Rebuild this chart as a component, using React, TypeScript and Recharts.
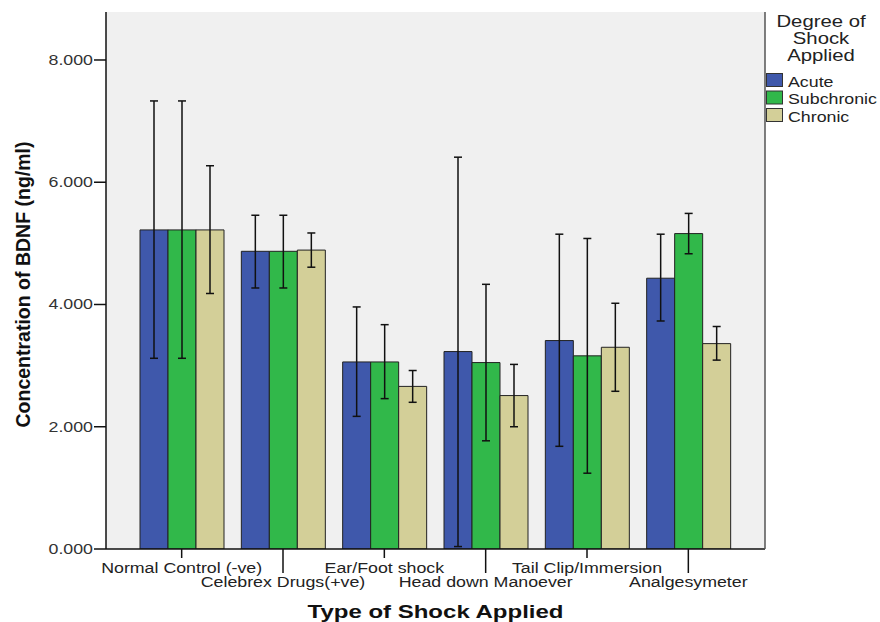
import { BarChart, Bar, XAxis, YAxis, ErrorBar, CartesianGrid } from 'recharts';

const categories = [
  'Normal Control (-ve)',
  'Celebrex Drugs(+ve)',
  'Ear/Foot shock',
  'Head down Manoever',
  'Tail Clip/Immersion',
  'Analgesymeter',
];

// means and 95% CI bounds
const acuteMean = [5.22, 4.87, 3.06, 3.23, 3.41, 4.43];
const acuteLow = [3.12, 4.27, 2.17, 0.04, 1.68, 3.73];
const acuteHigh = [7.33, 5.46, 3.96, 6.41, 5.15, 5.15];

const subchronicMean = [5.22, 4.87, 3.06, 3.05, 3.16, 5.16];
const subchronicLow = [3.12, 4.27, 2.46, 1.77, 1.24, 4.83];
const subchronicHigh = [7.33, 5.46, 3.67, 4.33, 5.08, 5.49];

const chronicMean = [5.22, 4.89, 2.66, 2.51, 3.3, 3.36];
const chronicLow = [4.18, 4.61, 2.4, 2.0, 2.58, 3.09];
const chronicHigh = [6.27, 5.17, 2.92, 3.02, 4.02, 3.64];

const yTicks = [0, 2, 4, 6, 8];

const series = [
  { key: 'acute', name: 'Acute', color: '#3f58ab', mean: acuteMean, low: acuteLow, high: acuteHigh },
  { key: 'subchronic', name: 'Subchronic', color: '#31b84a', mean: subchronicMean, low: subchronicLow, high: subchronicHigh },
  { key: 'chronic', name: 'Chronic', color: '#d3cf98', mean: chronicMean, low: chronicLow, high: chronicHigh },
];

const data = categories.map((name, i) => {
  const row: Record<string, any> = { name };
  series.forEach((s) => {
    row[s.key] = s.mean[i];
    row[s.key + 'Err'] = [s.mean[i] - s.low[i], s.high[i] - s.mean[i]];
  });
  return row;
});

const FONT = '"Liberation Sans", Arial, sans-serif';
const STRETCH = 1.27;

function CategoryTick({ x, y, payload, index }: any) {
  const low = index % 2 === 1;
  return (
    <g>
      <line x1={x} y1={y} x2={x} y2={y + (low ? 24 : 9)} stroke="#111" strokeWidth={1.5} />
      <text
        transform={`translate(${x},${y + (low ? 38 : 24)}) scale(${STRETCH},1)`}
        textAnchor="middle"
        fontSize={14}
        fontFamily={FONT}
        fill="#222"
      >
        {payload.value}
      </text>
    </g>
  );
}

function ValueTick({ x, y, payload }: any) {
  return (
    <text
      transform={`translate(${x},${y + 5}) scale(${STRETCH},1)`}
      textAnchor="end"
      fontSize={14}
      fontFamily={FONT}
      fill="#333"
    >
      {Number(payload.value).toFixed(3)}
    </text>
  );
}

function YTitle(props: any) {
  const vb = props.viewBox ?? props;
  const cy = vb.y + vb.height / 2;
  return (
    <text
      transform={`translate(${vb.x - 16},${cy + 4}) rotate(-90)`}
      textAnchor="middle"
      fontSize={19.5}
      fontWeight="bold"
      fontFamily={FONT}
      fill="#111"
    >
      Concentration of BDNF (ng/ml)
    </text>
  );
}

function XTitle(props: any) {
  const vb = props.viewBox ?? props;
  return (
    <text
      x={vb.x + vb.width / 2}
      y={vb.y + 69}
      textAnchor="middle"
      fontSize={18.5}
      fontWeight="bold"
      fontFamily={FONT}
      fill="#111"
      textLength={256}
      lengthAdjust="spacingAndGlyphs"
    >
      Type of Shock Applied
    </text>
  );
}

function Legend() {
  const title = ['Degree of', 'Shock', 'Applied'];
  return (
    <svg width={120} height={130} style={{ position: 'absolute', left: 760, top: 0 }}>
      {title.map((t, i) => (
        <text
          key={t}
          transform={`translate(61,${27 + i * 17}) scale(${STRETCH},1)`}
          textAnchor="middle"
          fontSize={16}
          fontFamily={FONT}
          fill="#222"
        >
          {t}
        </text>
      ))}
      {series.map((s, i) => (
        <g key={s.key}>
          <rect x={6.5} y={73.5 + i * 17.5} width={16} height={13} fill={s.color} stroke="#333" strokeWidth={1} />
          <text
            transform={`translate(28,${86.5 + i * 17.5}) scale(${STRETCH},1)`}
            fontSize={14}
            fontFamily={FONT}
            fill="#222"
          >
            {s.name}
          </text>
        </g>
      ))}
    </svg>
  );
}

export default function App() {
  return (
    <div style={{ position: 'absolute', left: 0, top: 0, width: 880, height: 622, background: '#fff' }}>
      <BarChart
        width={880}
        height={622}
        data={data}
        barGap={0}
        margin={{ top: 12, right: 114, bottom: 0, left: 46 }}
      >
        <CartesianGrid horizontal={false} vertical={false} fill="#f0f0f0" fillOpacity={1} />
        <XAxis
          dataKey="name"
          height={73}
          padding={{ left: 25, right: 26 }}
          tickSize={0}
          tickMargin={0}
          interval={0}
          tick={<CategoryTick />}
          axisLine={{ stroke: '#111', strokeWidth: 1.5 }}
          label={(p: any) => <XTitle {...p} />}
        />
        <YAxis
          width={60}
          domain={[0, 8.785]}
          ticks={yTicks}
          allowDataOverflow
          tickSize={12}
          tickMargin={1}
          tick={<ValueTick />}
          tickLine={{ stroke: '#111', strokeWidth: 1.5 }}
          axisLine={{ stroke: '#111', strokeWidth: 1.5 }}
          label={(p: any) => <YTitle {...p} />}
        />
        <YAxis
          yAxisId="frame"
          orientation="right"
          width={1}
          domain={[0, 1]}
          tick={false}
          tickLine={false}
          axisLine={{ stroke: '#555', strokeWidth: 1.5 }}
        />
        {series.map((s) => (
          <Bar
            key={s.key}
            dataKey={s.key}
            name={s.name}
            fill={s.color}
            stroke="#222"
            strokeWidth={1}
            barSize={28}
            isAnimationActive={false}
          >
            <ErrorBar dataKey={s.key + 'Err'} width={4} stroke="#111" strokeWidth={1.5} direction="y" />
          </Bar>
        ))}
      </BarChart>
      <Legend />
    </div>
  );
}
